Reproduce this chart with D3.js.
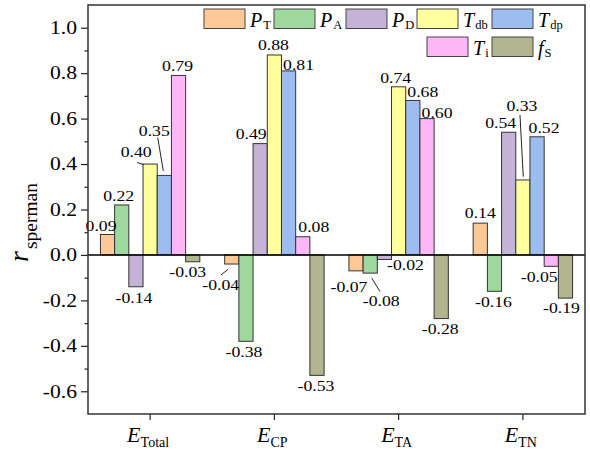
<!DOCTYPE html>
<html>
<head>
<meta charset="utf-8">
<script src="https://cdn.jsdelivr.net/npm/d3@7"></script>
<style>
  html, body { margin: 0; padding: 0; background: #fff; }
  svg text { font-family: "Liberation Serif", "Times New Roman", serif; fill: #000; }
</style>
</head>
<body>
<svg id="chart" width="590" height="452"></svg>
<script>
// ---- data ----
const categories = ["E_Total", "E_CP", "E_TA", "E_TN"];
const categorySub = ["Total", "CP", "TA", "TN"];
const seriesNames = ["P_T", "P_A", "P_D", "T_db", "T_dp", "T_i", "f_S"];
const seriesMain = ["P", "P", "P", "T", "T", "T", "f"];
const seriesSub = ["T", "A", "D", "db", "dp", "i", "S"];
const P_T  = [0.09, -0.04, -0.07, 0.14];
const P_A  = [0.22, -0.38, -0.08, -0.16];
const P_D  = [-0.14, 0.49, -0.02, 0.54];
const T_db = [0.40, 0.88, 0.74, 0.33];
const T_dp = [0.35, 0.81, 0.68, 0.52];
const T_i  = [0.79, 0.08, 0.60, -0.05];
const f_S  = [-0.03, -0.53, -0.28, -0.19];
const yTicks = [-0.6, -0.4, -0.2, 0.0, 0.2, 0.4, 0.6, 0.8, 1.0];
const yMinorTicks = [-0.5, -0.3, -0.1, 0.1, 0.3, 0.5, 0.7, 0.9];

// ---- styles ----
const colors = ["#FFC997", "#9ED89E", "#C4B2D7", "#FFFF9E", "#9DBDF1", "#FFB6F6", "#B2B590"];
const seriesValues = [P_T, P_A, P_D, T_db, T_dp, T_i, f_S];

// label nudges [dx, dy] per category/series (layout only)
const labelNudge = {
  "E_Total": [[-6.5,1],[-3,0],[-2,1],[-14,-3],[-10,-35],[-1,0],[-5,0]],
  "E_CP":    [[-11,11],[-2,1],[-9,-1],[-1,-1],[10,3],[11,-1],[-1,1]],
  "E_TA":    [[-7,6],[11,18],[21,-4],[-3,0],[10,1],[10,3],[-1,0]],
  "E_TN":    [[0,-1],[-1,1],[-8,0],[-1,-65],[7,0],[-12,1],[-4,0]]
};
// leader lines: category, series index, offsets from bar centre / bar end
const leaders = [
  {c: "E_Total", s: 3, o: [-13, -1.5, -6.5, 0.5]},
  {c: "E_Total", s: 4, o: [-6.6, -37.8, -1, -4.5]},
  {c: "E_CP",    s: 0, o: [-10.8, 10.9, -3.5, 5.2]},
  {c: "E_TA",    s: 1, o: [1.5, 5, 9.8, 18.5]},
  {c: "E_TN",    s: 3, o: [-2.9, -65, 0.4, -3.3]}
];

const svg = d3.select("#chart");
const mLeft = 88, mRight = 585, mTop = 5, mBottom = 414;

const x0 = d3.scaleBand().domain(categories).range([mLeft, mRight]).paddingInner(0.2).paddingOuter(0.1);
const x1 = d3.scaleBand().domain(seriesNames).range([0, x0.bandwidth()]);
const y = d3.scaleLinear().domain([-0.7, 1.1]).range([mBottom, mTop]);

const fmt2 = v => d3.format(".2f")(v).replace("\u2212", "-");
const fmt1 = v => d3.format(".1f")(v).replace("\u2212", "-");

const rows = [];
categories.forEach((c, ci) => {
  seriesNames.forEach((s, si) => {
    rows.push({c, ci, s, si, v: seriesValues[si][ci]});
  });
});

// bars
svg.append("g").selectAll("rect").data(rows).join("rect")
  .attr("x", d => x0(d.c) + x1(d.s))
  .attr("width", x1.bandwidth())
  .attr("y", d => y(Math.max(0, d.v)))
  .attr("height", d => Math.abs(y(d.v) - y(0)))
  .attr("fill", d => colors[d.si])
  .attr("stroke", "#333")
  .attr("stroke-width", 1);

// zero line
svg.append("line")
  .attr("x1", mLeft).attr("x2", mRight)
  .attr("y1", y(0)).attr("y2", y(0))
  .attr("stroke", "#000").attr("stroke-width", 1.4);

// value labels
const sx = 1.18;
svg.append("g").selectAll("text").data(rows).join("text")
  .attr("transform", d => {
    const cx = x0(d.c) + x1(d.s) + x1.bandwidth() / 2;
    const n = labelNudge[d.c][d.si];
    const by = d.v >= 0 ? y(d.v) - 4 : y(d.v) + 15;
    return `translate(${cx + n[0]},${by + n[1]}) scale(${sx},1)`;
  })
  .attr("text-anchor", "middle")
  .attr("font-size", 15)
  .text(d => fmt2(d.v));

// leader lines
svg.append("g").selectAll("line").data(leaders).join("line")
  .attr("x1", d => x0(d.c) + x1(seriesNames[d.s]) + x1.bandwidth() / 2 + d.o[0])
  .attr("y1", d => y(seriesValues[d.s][categories.indexOf(d.c)]) + d.o[1])
  .attr("x2", d => x0(d.c) + x1(seriesNames[d.s]) + x1.bandwidth() / 2 + d.o[2])
  .attr("y2", d => y(seriesValues[d.s][categories.indexOf(d.c)]) + d.o[3])
  .attr("stroke", "#222").attr("stroke-width", 1);

// y axis
const yAxisG = svg.append("g").attr("transform", `translate(${mLeft},0)`);
yAxisG.call(d3.axisLeft(y).tickValues(yTicks).tickSize(7).tickFormat(""));
yAxisG.call(g => g.select(".domain").remove());
yAxisG.selectAll(".tick line").attr("stroke", "#222").attr("stroke-width", 1.2);
const yMinorG = svg.append("g").attr("transform", `translate(${mLeft},0)`);
yMinorG.call(d3.axisLeft(y).tickValues(yMinorTicks).tickSize(3.5).tickFormat(""));
yMinorG.call(g => g.select(".domain").remove());
yMinorG.selectAll(".tick line").attr("stroke", "#222").attr("stroke-width", 1.2);

svg.append("g").selectAll("text").data(yTicks).join("text")
  .attr("transform", d => `translate(${mLeft - 11},${y(d)}) scale(1.2,1)`)
  .attr("text-anchor", "end")
  .attr("dy", "0.35em")
  .attr("font-size", 18)
  .text(d => fmt1(d));

// x axis ticks
const xAxisG = svg.append("g").attr("transform", `translate(0,${mBottom})`);
xAxisG.call(d3.axisBottom(x0).tickSize(6).tickSizeOuter(0).tickFormat(""));
xAxisG.call(g => g.select(".domain").remove());
xAxisG.selectAll(".tick line").attr("stroke", "#222").attr("stroke-width", 1.2);

const catLabels = svg.append("g").selectAll("text").data(categories).join("text")
  .attr("x", d => x0(d) + x0.bandwidth() / 2 - 2)
  .attr("y", 442)
  .attr("text-anchor", "middle");
catLabels.append("tspan").attr("font-style", "italic").attr("font-size", 22).text("E");
catLabels.append("tspan").attr("font-size", 14).attr("dy", 5).text((d, i) => categorySub[i]);

// frame
svg.append("rect")
  .attr("x", mLeft).attr("y", mTop)
  .attr("width", mRight - mLeft).attr("height", mBottom - mTop)
  .attr("fill", "none").attr("stroke", "#333").attr("stroke-width", 1.5);

// y title
const yt = svg.append("text")
  .attr("transform", "translate(28,262) rotate(-90)")
  .attr("text-anchor", "start");
yt.append("tspan").attr("font-style", "italic").attr("font-size", 28).text("r");
yt.append("tspan").attr("font-size", 19.5).attr("dx", 2).attr("dy", 9).text("sperman");

// legend
const legendPos = [[204, 9], [274, 9], [346, 9], [417, 9], [492, 9], [427, 37], [492, 37]];
const lg = svg.append("g").selectAll("g").data(seriesNames).join("g")
  .attr("transform", (d, i) => `translate(${legendPos[i][0]},${legendPos[i][1]})`);
lg.append("rect")
  .attr("width", 41).attr("height", 19.5)
  .attr("fill", (d, i) => colors[i])
  .attr("stroke", "#444").attr("stroke-width", 1);
const lt = lg.append("text").attr("x", 46).attr("y", 18);
lt.append("tspan").attr("font-style", "italic").attr("font-size", 20).text((d, i) => seriesMain[i]);
lt.append("tspan").attr("font-size", 12.5).attr("dx", 1).attr("dy", 2).text((d, i) => seriesSub[i]);
</script>
</body>
</html>
